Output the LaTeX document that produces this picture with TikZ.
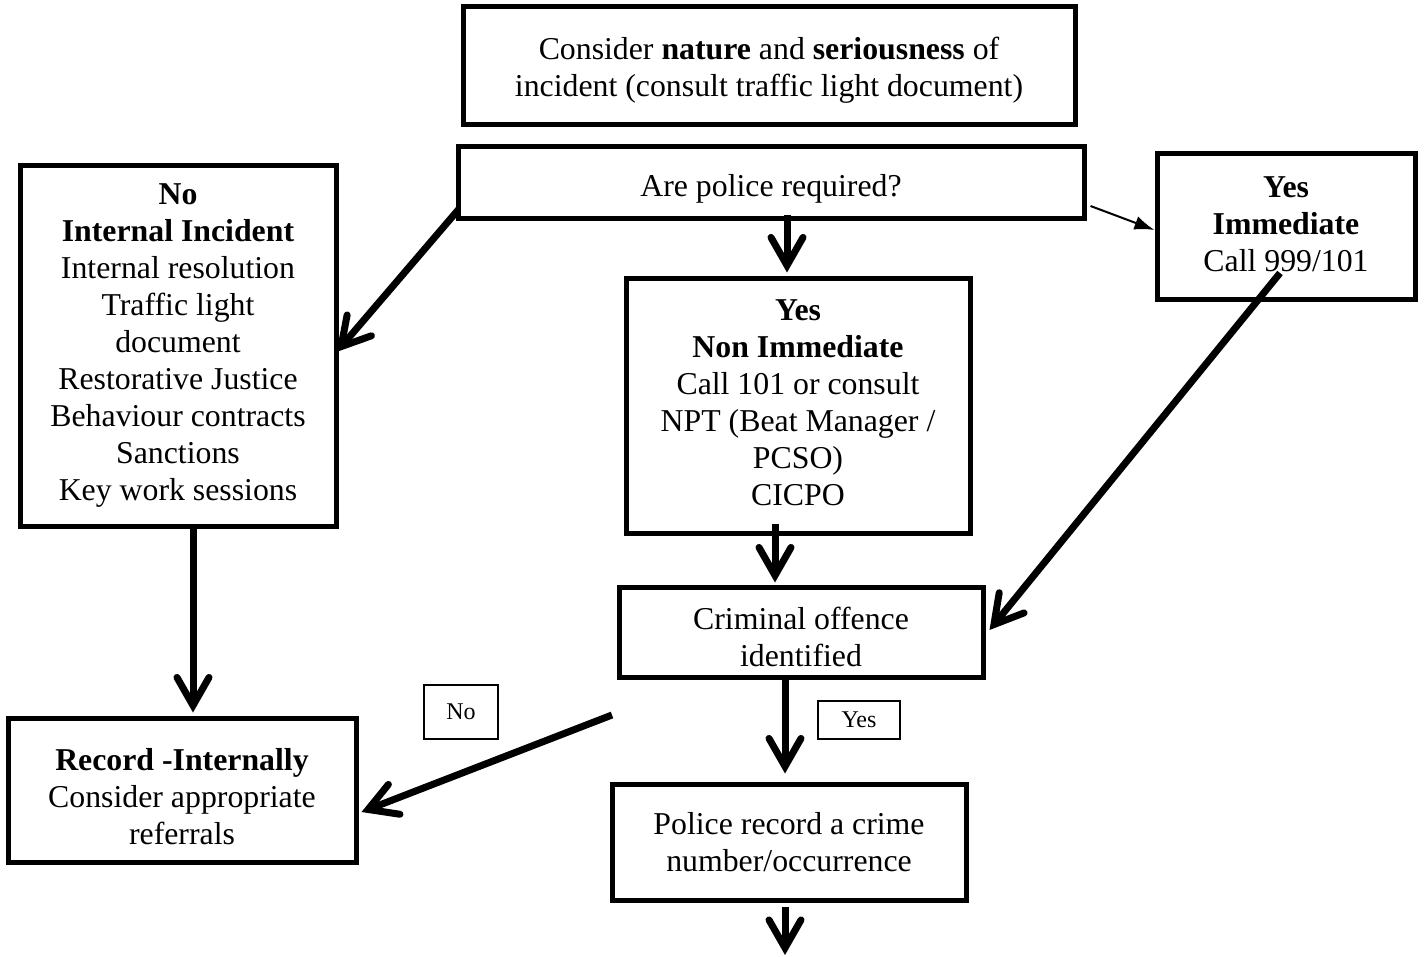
\documentclass[tikz,border=0pt]{standalone}
\usepackage{fontspec}
\setmainfont{Liberation Serif}
\usetikzlibrary{arrows.meta,positioning}

\newcommand{\strutto}[1]{\rule{0pt}{#1}}

\tikzset{
    box/.style={draw, line width=2.5pt, inner sep=0pt, align=center,
        font=\fontsize{15.9}{18.5}\selectfont},
    tagbox/.style={draw, line width=0.75pt, inner sep=0pt, align=center,
        font=\fontsize{12}{14}\selectfont},
    lift/.style={execute at end node={\rule[-#1]{0pt}{0pt}}},
    bigarrow/.style={line width=3.5pt, -{Straight Barb[length=14pt,width=16pt,line cap=round,line join=miter]}},
    thinarrow/.style={line width=1pt, -{Latex[length=10pt,width=7pt]}}
}

\begin{document}
\begin{tikzpicture}[x=0.5pt,y=-0.5pt]
    \useasboundingbox (0,0) rectangle (1424,957);

    % Draw boxes
    \node[box, minimum width=306pt, minimum height=59pt] (nature) at (769,66) {\strutto{15pt}Consider \textbf{nature} and \textbf{seriousness} of\\incident (consult traffic light document)};
    \node[box, minimum width=313pt, minimum height=36pt] (police) at (771,183) {\strutto{17pt}Are police required?};
    \node[box, minimum width=158pt, minimum height=180pt] (internal) at (178,346) {\textbf{No}\\\textbf{Internal Incident}\\Internal resolution\\Traffic light\\document\\Restorative Justice\\Behaviour contracts\\Sanctions\\Key work sessions};
    \node[box, lift=3pt, minimum width=129pt, minimum height=73pt] (immediate) at (1286,227) {\textbf{Yes}\\\textbf{Immediate}\\Call 999/101};
    \node[box, lift=3pt, minimum width=172pt, minimum height=127pt] (nonimm) at (798,406) {\textbf{Yes}\\\textbf{Non Immediate}\\Call 101 or consult\\NPT (Beat Manager /\\PCSO)\\CICPO};
    \node[box, minimum width=182pt, minimum height=45pt] (offence) at (801,632) {\strutto{16pt}Criminal offence\\identified};
    \node[box, minimum width=174pt, minimum height=72pt] (record) at (182,790) {\strutto{18pt}\textbf{Record -Internally}\\Consider appropriate\\referrals};
    \node[box, minimum width=177pt, minimum height=58pt] (crime) at (789,842) {Police record a crime\\number/occurrence};

    % Draw labels on the branches
    \node[tagbox, minimum width=37pt, minimum height=27pt] (nolabel) at (461,712) {No};
    \node[tagbox, minimum width=41pt, minimum height=19pt] (yeslabel) at (859,720) {Yes};

    % Draw arrows
    \coordinate (nostart) at (612,715);
    \coordinate (bottom) at (785,955);
    \draw[bigarrow] ([shift={(3,-12)}]police.south west) -- ([shift={(-2,6)}]internal.east);
    \draw[bigarrow] ([shift={(16,-6)}]police.south) -- ([shift={(-11,-4)}]nonimm.north);
    \draw[thinarrow] ([shift={(4,23)}]police.east) -- ([shift={(0,3)}]immediate.west);
    \draw[bigarrow] ([shift={(-6,46)}]immediate.center) -- ([shift={(4,-2)}]offence.east);
    \draw[bigarrow] ([shift={(-23,-12)}]nonimm.south) -- ([shift={(-26,-2)}]offence.north);
    \draw[bigarrow] ([shift={(15,0)}]internal.south) -- ([shift={(11,-3)}]record.north);
    \draw[bigarrow] (nostart) -- ([shift={(3,22)}]record.east);
    \draw[bigarrow] ([shift={(-16,0)}]offence.south) -- ([shift={(-4,-8)}]crime.north);
    \draw[bigarrow] ([shift={(-4,4)}]crime.south) -- (bottom);
\end{tikzpicture}
\end{document}
